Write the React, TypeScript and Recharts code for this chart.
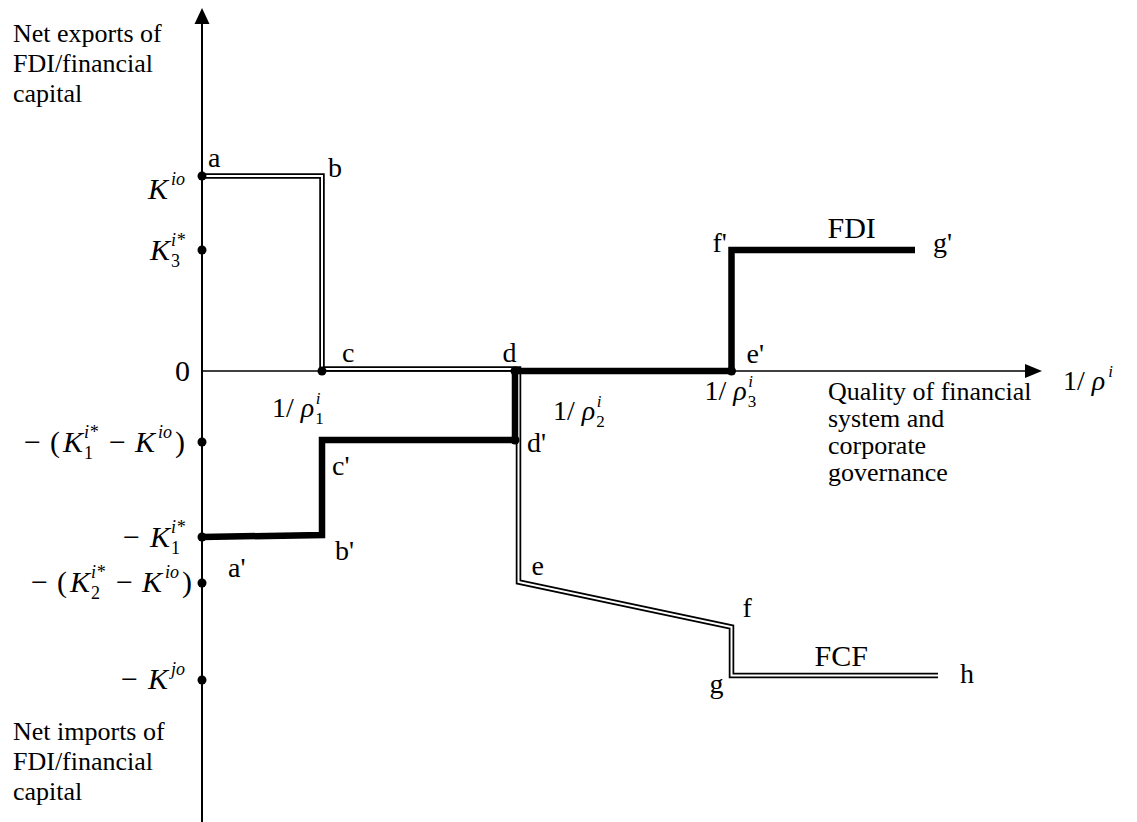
import { ComposedChart, Line, XAxis, YAxis, ReferenceLine, ReferenceDot } from "recharts";

const W = 1137;
const H = 822;
const FONT = '"Liberation Serif", "Times New Roman", Times, serif';

type Part = { t: string; it?: boolean; pos?: "sup" | "sub"; dx?: number };

// levels marked on the vertical axis, top to bottom
const levelValues = [19.5, 12.1, 0, -7.1, -16.6, -21.2, -30.9];
const levelLabels: Part[][] = [
  [{ t: "K", it: true }, { t: "io", it: true, pos: "sup", dx: 3 }],
  [{ t: "K", it: true }, { t: "3", pos: "sub", dx: 1 }, { t: "i*", it: true, pos: "sup", dx: -9 }],
  [{ t: "0" }],
  [
    { t: "−" }, { t: "(", dx: 9 }, { t: "K", it: true, dx: 3 }, { t: "1", pos: "sub", dx: 1 },
    { t: "i*", it: true, pos: "sup", dx: -9 }, { t: "−", dx: 11 }, { t: "K", it: true, dx: 9 },
    { t: "io", it: true, pos: "sup", dx: 3 }, { t: ")", dx: 3 },
  ],
  [{ t: "−" }, { t: "K", it: true, dx: 10 }, { t: "1", pos: "sub", dx: 1 }, { t: "i*", it: true, pos: "sup", dx: -9 }],
  [
    { t: "−" }, { t: "(", dx: 9 }, { t: "K", it: true, dx: 3 }, { t: "2", pos: "sub", dx: 1 },
    { t: "i*", it: true, pos: "sup", dx: -9 }, { t: "−", dx: 11 }, { t: "K", it: true, dx: 9 },
    { t: "io", it: true, pos: "sup", dx: 3 }, { t: ")", dx: 3 },
  ],
  [{ t: "−" }, { t: "K", it: true, dx: 10 }, { t: "jo", it: true, pos: "sup", dx: 3 }],
];

// thresholds on the horizontal axis: 1/rho1, 1/rho2, 1/rho3
const thresholds = [12, 31.3, 52.95];
const thresholdLabels: Part[][] = [1, 2, 3].map((n) => [
  { t: "1/" },
  { t: "ρ", it: true, dx: 7 },
  { t: String(n), pos: "sub" as const, dx: 1 },
  { t: "i", it: true, pos: "sup" as const, dx: -8 },
]);
const axisLabel: Part[] = [{ t: "1/" }, { t: "ρ", it: true, dx: 7 }, { t: "i", it: true, pos: "sup", dx: 3 }];

// FCF curve a-b-c-d-e-f-g-h
const fcfX = [0, 12, 12, 31.65, 31.65, 52.95, 52.95, 73.6];
const fcfY = [19.5, 19.5, 0.2, 0.2, -21.1, -25.6, -30.45, -30.45];
const fcfNames = ["a", "b", "c", "d", "e", "f", "g", "h"];

// FDI curve a'-b'-c'-d'-d-e'-f'-g'
const fdiX = [0, 12, 12, 31.3, 31.3, 52.95, 52.95, 71.3];
const fdiY = [-16.6, -16.4, -6.9, -6.9, 0, 0, 12.1, 12.1];
const fdiNames = ["a'", "b'", "c'", "d'", "", "e'", "f'", "g'"];

const yTopTitle = ["Net exports of", "FDI/financial", "capital"];
const yBottomTitle = ["Net imports of", "FDI/financial", "capital"];
const xTitle = ["Quality of financial", "system and", "corporate", "governance"];

const X_MAX = 90;
const Y_MIN = -45.1;
const Y_MAX = 37.1;
const Y_TIP = 36.3;
const X_TIP = 84;

function MathText({ x, y, parts, size = 30, anchor = "start" }: { x: number; y: number; parts: Part[]; size?: number; anchor?: string }) {
  let shift = 0;
  const small = Math.round(size * 0.6);
  return (
    <text x={x} y={y} fontFamily={FONT} fontSize={size} textAnchor={anchor as any} fill="#000">
      {parts.map((p, i) => {
        const target = p.pos === "sup" ? -0.47 * size : p.pos === "sub" ? 0.24 * size : 0;
        const dy = target - shift;
        shift = target;
        return (
          <tspan key={i} dx={p.dx ?? 0} dy={dy} fontStyle={p.it ? "italic" : "normal"} fontSize={p.pos ? small : size}>
            {p.t}
          </tspan>
        );
      })}
    </text>
  );
}

const fcfOffsets = [[6, -9], [6, 1], [20, -7], [-16, -7], [13, -7], [11, -10], [-22, 17], [22, 7]];
const fdiOffsets = [[26, 40], [13, 25], [10, 35], [12, 12], [0, 0], [15, -8], [-19, 2], [18, 2]];
const levelShift = [[0, 23], [0, 10], [5, 10], [0, 10], [0, 10], [7, 9], [0, 9]];
const thresholdOffsets = [[-50, 46], [38, 49], [-27, 29]];

function textAt(key: string, x: number, y: number, dx: number, dy: number, text: string, size = 28) {
  return (
    <ReferenceDot
      key={key}
      x={x}
      y={y}
      r={0}
      ifOverflow="visible"
      shape={(p: any) => (
        <text x={p.cx + dx} y={p.cy + dy} fontFamily={FONT} fontSize={size} fill="#000">
          {text}
        </text>
      )}
    />
  );
}

function blockAt(key: string, x: number, y: number, dx: number, dy: number, lines: string[], step: number) {
  return (
    <ReferenceDot
      key={key}
      x={x}
      y={y}
      r={0}
      ifOverflow="visible"
      shape={(p: any) => (
        <text fontFamily={FONT} fontSize={26} fill="#000">
          {lines.map((l, i) => (
            <tspan key={i} x={p.cx + dx} y={p.cy + dy + i * step}>
              {l}
            </tspan>
          ))}
        </text>
      )}
    />
  );
}

function mathAt(key: string, x: number, y: number, dx: number, dy: number, parts: Part[]) {
  return (
    <ReferenceDot
      key={key}
      x={x}
      y={y}
      r={0}
      ifOverflow="visible"
      shape={(p: any) => <MathText x={p.cx + dx} y={p.cy + dy} parts={parts} size={28} />}
    />
  );
}

function dotAt(key: string, x: number, y: number) {
  return <ReferenceDot key={key} x={x} y={y} r={4.5} fill="#000" stroke="none" ifOverflow="visible" />;
}

export default function App() {
  const fcfData = fcfX.map((x, i) => ({ x, y: fcfY[i] }));
  const fdiData = fdiX.map((x, i) => ({ x, y: fdiY[i] }));

  const LevelTick = (props: any) => {
    const i = levelValues.indexOf(props.payload.value);
    if (i < 0) return <g />;
    const [sx, sy] = levelShift[i];
    return <MathText x={props.x + sx} y={props.y + sy} parts={levelLabels[i]} size={30} anchor="end" />;
  };

  return (
    <div style={{ position: "absolute", left: 0, top: 0, width: W, height: H, background: "#fff" }}>
      <ComposedChart width={W} height={H} margin={{ top: 0, right: 35, bottom: 0, left: 0 }}>
        <XAxis type="number" dataKey="x" domain={[0, X_MAX]} hide allowDataOverflow />
        <YAxis
          type="number"
          domain={[Y_MIN, Y_MAX]}
          width={202}
          ticks={levelValues}
          interval={0}
          tick={LevelTick}
          axisLine={false}
          tickLine={false}
          tickSize={0}
          tickMargin={17}
          allowDataOverflow
        />

        {/* axes */}
        <ReferenceLine segment={[{ x: 0, y: Y_MIN }, { x: 0, y: 35 }]} stroke="#000" strokeWidth={2} ifOverflow="visible" />
        <ReferenceLine segment={[{ x: 0, y: 0 }, { x: 82.5, y: 0 }]} stroke="#000" strokeWidth={1.5} ifOverflow="visible" />
        <ReferenceDot
          x={0}
          y={Y_TIP}
          r={1}
          ifOverflow="visible"
          shape={(p: any) => <polygon points={`${p.cx},${p.cy} ${p.cx - 7.5},${p.cy + 16} ${p.cx + 7.5},${p.cy + 16}`} fill="#000" />}
        />
        <ReferenceDot
          x={X_TIP}
          y={0}
          r={1}
          ifOverflow="visible"
          shape={(p: any) => <polygon points={`${p.cx},${p.cy} ${p.cx - 17},${p.cy - 7} ${p.cx - 17},${p.cy + 7}`} fill="#000" />}
        />

        {/* FCF: double line */}
        <Line data={fcfData} dataKey="y" name="fcf-outer" type="linear" stroke="#000" strokeWidth={5.5} strokeLinejoin="miter" dot={false} isAnimationActive={false} />
        <Line data={fcfData} dataKey="y" name="fcf-inner" type="linear" stroke="#fff" strokeWidth={2} strokeLinejoin="miter" dot={false} isAnimationActive={false} />
        {/* FDI: thick line */}
        <Line data={fdiData} dataKey="y" name="fdi" type="linear" stroke="#000" strokeWidth={6.5} strokeLinejoin="miter" dot={false} isAnimationActive={false} />

        {levelValues.filter((v) => v !== 0).map((v, i) => dotAt(`lv${i}`, 0, v))}
        {thresholds.map((t, i) => dotAt(`th${i}`, t, 0))}
        {dotAt("dprime", fdiX[3], fdiY[3])}

        {fcfNames.map((n, i) => textAt(`fcf${i}`, fcfX[i], fcfY[i], fcfOffsets[i][0], fcfOffsets[i][1], n))}
        {fdiNames.map((n, i) => (n ? textAt(`fdi${i}`, fdiX[i], fdiY[i], fdiOffsets[i][0], fdiOffsets[i][1], n) : null))}
        {textAt("fcfName", fcfX[6], fcfY[6], 83, -10, "FCF", 30)}
        {textAt("fdiName", fdiX[6], fdiY[6], 96, -12, "FDI", 30)}

        {thresholds.map((t, i) => mathAt(`thl${i}`, t, 0, thresholdOffsets[i][0], thresholdOffsets[i][1], thresholdLabels[i]))}
        {mathAt("axisName", X_TIP, 0, 21, 19, axisLabel)}

        {blockAt("yTop", 0, Y_TIP, -189, 34, yTopTitle, 30)}
        {blockAt("yBottom", 0, Y_MIN, -189, -82, yBottomTitle, 30)}
        {blockAt("xTitle", X_TIP, 0, -214, 29, xTitle, 27)}
      </ComposedChart>
    </div>
  );
}
